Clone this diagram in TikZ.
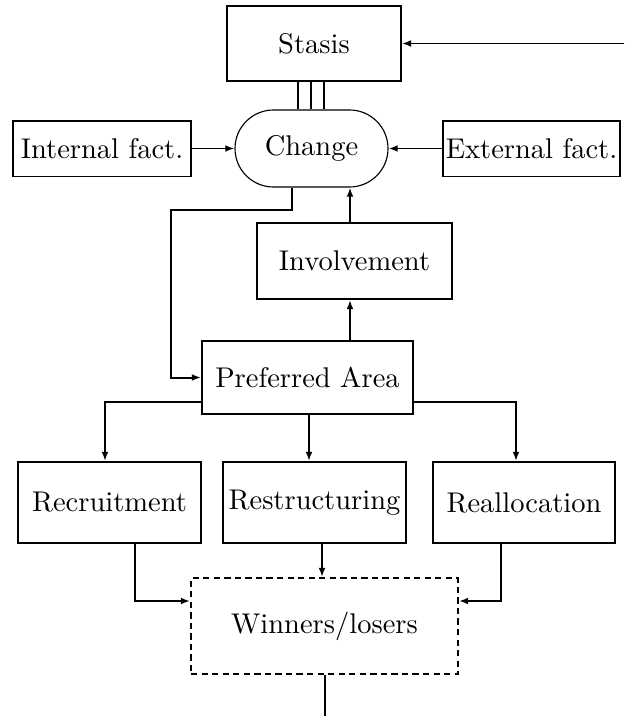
\documentclass[tikz,border=0pt]{standalone}
\usetikzlibrary{arrows.meta}
\begin{document}
\begin{tikzpicture}[x=0.3509pt,y=-0.3509pt,
  box/.style={draw,line width=0.7pt,rectangle,inner sep=0.5pt,font=\normalsize},
  pill/.style={draw,line width=0.4pt,rectangle,rounded corners=13.5pt,inner sep=0.5pt,
    minimum width=53.69pt,minimum height=27.02pt},
  dbox/.style={draw,line width=0.7pt,dash pattern=on 2.2pt off 1.5pt,inner sep=0.5pt},
  conn/.style={line width=0.7pt},
  arr/.style={line width=0.7pt,-{Latex[length=3.2pt,width=2.4pt]}}]
\useasboundingbox (0,0) rectangle (624,716);

\node[box,minimum width=61.06pt,minimum height=26.32pt] (stasis) at (314,43.5) {Stasis};
\node[pill] (change) at (311.5,148.5) {Change};
\node[box,minimum width=62.46pt,minimum height=19.65pt] (int) at (102,148.5) {Internal fact.};
\node[box,minimum width=62.11pt,minimum height=19.65pt] (ext) at (531.5,148.5) {External fact.};
\node[box,minimum width=68.43pt,minimum height=26.67pt] (inv) at (354.5,261) {Involvement};
\node[box,minimum width=74.04pt,minimum height=25.62pt] (pref) at (307.5,377.5) {Preferred Area};
\node[box,minimum width=64.21pt,minimum height=28.42pt] (recr) at (109.5,502.5) {Recruitment};
\node[box,minimum width=64.21pt,minimum height=28.42pt] (restr) at (314.5,502.5) {Restructuring};
\node[box,minimum width=63.86pt,minimum height=28.42pt] (real) at (524,502.5) {Reallocation};
\node[dbox,minimum width=93.69pt,minimum height=33.69pt] (win) at (324.5,626) {Winners/losers};

% coordinates
\coordinate (inR) at (624,43.5);
\coordinate (t1) at (298,0);
\coordinate (t2) at (311,0);
\coordinate (t3) at (324,0);
\coordinate (c1) at (292,210);
\coordinate (c2) at (171,210);
\coordinate (vx) at (350,0);
\coordinate (py) at (0,402);
\coordinate (rx) at (105,0);
\coordinate (lx) at (516,0);
\coordinate (mx) at (309,0);
\coordinate (wx) at (322,0);
\coordinate (wy) at (0,601);
\coordinate (rbx) at (135,0);
\coordinate (lbx) at (501,0);
\coordinate (bot) at (325,716);

% connectors
\draw[arr] (inR) -- (stasis.east);
\foreach \t in {t1,t2,t3} \draw[conn] (stasis.south -| \t) -- (change.north -| \t);
\draw[arr] (int.east) -- (change.west);
\draw[arr] (ext.west) -- (change.east);
\draw[arr] (change.south -| c1) -- (c1) -- (c2) |- (pref.west);
\draw[arr] (inv.north -| vx) -- (change.south -| vx);
\draw[arr] (pref.north -| vx) -- (inv.south -| vx);
\draw[arr] (pref.west |- py) -| (recr.north -| rx);
\draw[arr] (pref.east |- py) -| (real.north -| lx);
\draw[arr] (pref.south -| mx) -- (restr.north -| mx);
\draw[arr] (restr.south -| wx) -- (win.north -| wx);
\draw[arr] (recr.south -| rbx) |- (win.west |- wy);
\draw[arr] (real.south -| lbx) |- (win.east |- wy);
\draw[conn] (win.south -| bot) -- (bot);
\end{tikzpicture}
\end{document}
